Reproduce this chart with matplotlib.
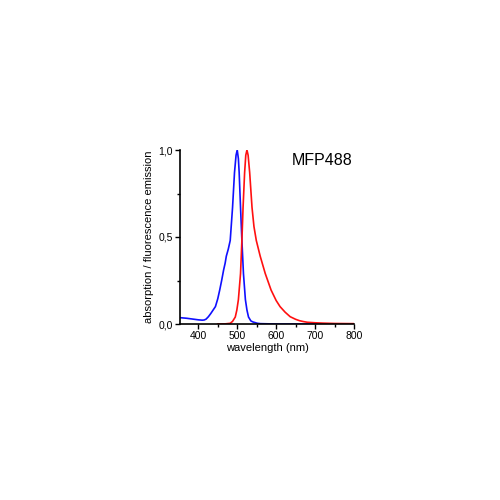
import matplotlib
matplotlib.use("Agg")
import matplotlib.pyplot as plt
from matplotlib.ticker import MultipleLocator, FuncFormatter

plt.rcParams['font.family'] = ['Liberation Sans', 'DejaVu Sans']

abs_nm = [355, 370, 380, 390, 400, 410, 415, 420, 426, 432, 438, 444, 450, 455, 460,
          465, 469, 472, 477, 482, 488, 493, 497, 500, 503, 505, 508.5, 512, 516, 521,
          525, 529, 535, 540, 546, 552, 560, 600, 650, 700, 720]
abs_val = [0.036, 0.033, 0.030, 0.027, 0.024, 0.022, 0.023, 0.028, 0.042, 0.060, 0.080,
           0.10, 0.145, 0.195, 0.25, 0.31, 0.35, 0.39, 0.43, 0.48, 0.67, 0.87, 0.97, 1.0,
           0.95, 0.87, 0.67, 0.48, 0.29, 0.14, 0.08, 0.04, 0.018, 0.012, 0.008, 0.004,
           0.002, 0.0, 0.0, 0.0, 0.0]

em_nm = [450, 470, 482, 488, 495, 499, 503, 508.5, 512, 515, 519, 522, 525, 528, 532,
         538, 543, 549, 559, 572, 587, 600, 610, 623, 636, 650, 660, 670, 680, 700,
         720, 750, 800]
em_val = [0.0, 0.001, 0.004, 0.015, 0.04, 0.08, 0.14, 0.29, 0.48, 0.67, 0.87, 0.97,
          1.0, 0.97, 0.87, 0.67, 0.56, 0.48, 0.39, 0.29, 0.195, 0.135, 0.10, 0.068,
          0.042, 0.027, 0.019, 0.014, 0.010, 0.007, 0.005, 0.003, 0.002]

fig = plt.figure(figsize=(5, 5), dpi=100)
ax = fig.add_axes([0.36, 0.352, 0.348, 0.348])
ax.plot(abs_nm, abs_val, color='#1010ff', lw=1.2)
ax.plot(em_nm, em_val, color='#ff1010', lw=1.2)

ax.set_xlim(353, 800)
ax.set_ylim(0, 1.0)
for s in ['top', 'right']:
    ax.spines[s].set_visible(False)
ax.spines['left'].set_linewidth(1.2)
ax.spines['bottom'].set_linewidth(1.2)

ax.xaxis.set_major_locator(MultipleLocator(100))
ax.xaxis.set_minor_locator(MultipleLocator(50))
ax.yaxis.set_major_locator(MultipleLocator(0.5))
ax.yaxis.set_minor_locator(MultipleLocator(0.25))
ax.yaxis.set_major_formatter(FuncFormatter(lambda v, p: f"{v:.1f}".replace('.', ',')))
ax.tick_params(which='major', length=3.5, width=1, labelsize=7.5, direction='out', pad=1.5)
ax.tick_params(which='minor', length=2, width=1, direction='out')

ax.set_xlabel('wavelength (nm)', fontsize=8, labelpad=1.5)
ax.set_ylabel('absorption / fluorescence emission', fontsize=8, labelpad=3)
ax.text(0.645, 0.94, 'MFP488', transform=ax.transAxes, fontsize=11.5, va='center', ha='left')

fig.savefig('out.png', dpi=100)
